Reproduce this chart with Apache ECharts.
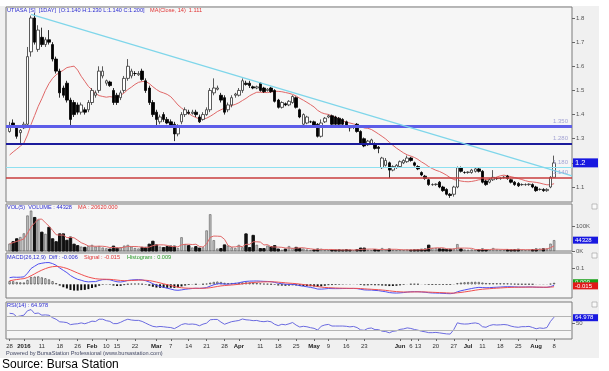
<!DOCTYPE html>
<html><head><meta charset="utf-8">
<script src="https://cdn.jsdelivr.net/npm/echarts@6/dist/echarts.min.js"></script>
<style>html,body{margin:0;padding:0;background:#fff}#c{width:609px;height:371px}</style>
</head><body><div id="c"></div>
<script>
// ---------- DATA ----------
const tradingDays = ('2015-12-28 2015-12-29 2015-12-30 2015-12-31 ' +
 '2016-01-04 2016-01-05 2016-01-06 2016-01-07 2016-01-08 2016-01-11 2016-01-12 2016-01-13 2016-01-14 2016-01-15 ' +
 '2016-01-18 2016-01-19 2016-01-20 2016-01-21 2016-01-22 2016-01-26 2016-01-27 2016-01-28 2016-01-29 ' +
 '2016-02-02 2016-02-03 2016-02-04 2016-02-05 2016-02-10 2016-02-11 2016-02-12 2016-02-15 2016-02-16 2016-02-17 2016-02-18 2016-02-19 ' +
 '2016-02-22 2016-02-23 2016-02-24 2016-02-25 2016-02-26 2016-02-29 ' +
 '2016-03-01 2016-03-02 2016-03-03 2016-03-04 2016-03-07 2016-03-08 2016-03-09 2016-03-10 2016-03-11 ' +
 '2016-03-14 2016-03-15 2016-03-16 2016-03-17 2016-03-18 2016-03-21 2016-03-22 2016-03-23 2016-03-24 2016-03-25 ' +
 '2016-03-28 2016-03-29 2016-03-30 2016-03-31 2016-04-01 ' +
 '2016-04-04 2016-04-05 2016-04-06 2016-04-07 2016-04-08 2016-04-11 2016-04-12 2016-04-13 2016-04-14 2016-04-15 ' +
 '2016-04-18 2016-04-19 2016-04-20 2016-04-21 2016-04-22 2016-04-25 2016-04-26 2016-04-27 2016-04-28 2016-04-29 ' +
 '2016-05-03 2016-05-04 2016-05-05 2016-05-06 2016-05-09 2016-05-10 2016-05-11 2016-05-12 2016-05-13 ' +
 '2016-05-16 2016-05-17 2016-05-18 2016-05-19 2016-05-20 2016-05-23 2016-05-24 2016-05-25 2016-05-26 2016-05-27 ' +
 '2016-05-30 2016-05-31 2016-06-01 2016-06-02 2016-06-03 ' +
 '2016-06-06 2016-06-07 2016-06-08 2016-06-09 2016-06-10 2016-06-13 2016-06-14 2016-06-15 2016-06-16 2016-06-17 ' +
 '2016-06-20 2016-06-21 2016-06-22 2016-06-23 2016-06-24 2016-06-27 2016-06-28 2016-06-29 2016-06-30 2016-07-01 ' +
 '2016-07-04 2016-07-05 2016-07-08 2016-07-11 2016-07-12 2016-07-13 2016-07-14 2016-07-15 ' +
 '2016-07-18 2016-07-19 2016-07-20 2016-07-21 2016-07-22 2016-07-25 2016-07-26 2016-07-27 2016-07-28 2016-07-29 ' +
 '2016-08-01 2016-08-02 2016-08-03 2016-08-04 2016-08-05 2016-08-08').split(' ');
const leadDays = ['2015-12-24'];
const trailDays = ['2016-08-09','2016-08-10','2016-08-11','2016-08-12','2016-08-15'];

const opens = [1.33,1.365,1.35,1.325,1.345,1.36,1.66,1.80,1.67,1.72,
1.69,1.71,1.69,1.63,1.58,1.51,1.53,1.46,1.45,1.44,
1.41,1.42,1.42,1.45,1.48,1.50,1.56,1.53,1.535,1.50,
1.48,1.47,1.50,1.55,1.56,1.57,1.565,1.58,1.54,1.51,
1.45,1.41,1.37,1.40,1.38,1.37,1.36,1.32,1.37,1.40,
1.41,1.405,1.41,1.39,1.38,1.40,1.42,1.49,1.505,1.48,
1.47,1.42,1.44,1.48,1.48,1.50,1.53,1.53,1.515,1.51,
1.53,1.51,1.50,1.51,1.50,1.46,1.43,1.445,1.44,1.45,
1.47,1.42,1.36,1.365,1.37,1.37,1.36,1.31,1.37,1.39,
1.395,1.39,1.385,1.38,1.37,1.35,1.35,1.36,1.33,1.30,
1.275,1.28,1.28,1.265,1.18,1.19,1.20,1.17,1.18,1.185,
1.20,1.205,1.22,1.20,1.185,1.16,1.145,1.13,1.11,1.11,
1.12,1.10,1.09,1.07,1.07,1.10,1.18,1.16,1.16,1.16,
1.165,1.175,1.165,1.125,1.12,1.13,1.135,1.135,1.14,1.145,
1.13,1.12,1.115,1.11,1.11,1.11,1.11,1.10,1.09,1.09,
1.085,1.10,1.14];
const closes = [1.355,1.35,1.31,1.335,1.36,1.64,1.80,1.70,1.75,1.69,
1.71,1.70,1.63,1.58,1.49,1.48,1.46,1.38,1.40,1.41,
1.44,1.41,1.45,1.50,1.49,1.58,1.58,1.54,1.52,1.45,
1.45,1.49,1.55,1.60,1.58,1.57,1.57,1.545,1.50,1.45,
1.40,1.38,1.39,1.38,1.365,1.355,1.32,1.355,1.40,1.42,
1.405,1.41,1.40,1.37,1.40,1.42,1.50,1.51,1.51,1.46,
1.41,1.44,1.47,1.485,1.50,1.54,1.525,1.52,1.51,1.515,
1.50,1.495,1.505,1.495,1.455,1.43,1.45,1.44,1.455,1.475,
1.43,1.39,1.40,1.39,1.37,1.355,1.31,1.365,1.385,1.395,
1.36,1.36,1.36,1.36,1.355,1.345,1.35,1.33,1.28,1.27,
1.29,1.295,1.26,1.26,1.22,1.21,1.17,1.185,1.19,1.205,
1.21,1.22,1.21,1.19,1.175,1.15,1.135,1.11,1.11,1.112,
1.10,1.085,1.07,1.065,1.10,1.18,1.165,1.16,1.162,1.17,
1.175,1.165,1.12,1.11,1.13,1.14,1.135,1.137,1.14,1.135,
1.12,1.11,1.105,1.11,1.11,1.112,1.10,1.085,1.09,1.085,
1.09,1.14,1.20];
const lows = [1.325,1.345,1.30,1.28,1.34,1.35,1.64,1.69,1.66,1.68,
1.68,1.69,1.62,1.57,1.47,1.47,1.45,1.355,1.39,1.40,
1.40,1.40,1.41,1.44,1.47,1.49,1.55,1.52,1.515,1.44,
1.44,1.46,1.49,1.54,1.55,1.56,1.56,1.54,1.49,1.44,
1.39,1.35,1.36,1.37,1.36,1.35,1.29,1.31,1.36,1.39,
1.40,1.40,1.39,1.365,1.375,1.395,1.41,1.48,1.50,1.45,
1.40,1.41,1.43,1.47,1.475,1.49,1.52,1.51,1.505,1.505,
1.495,1.49,1.495,1.49,1.45,1.425,1.425,1.435,1.435,1.445,
1.425,1.385,1.355,1.36,1.365,1.35,1.305,1.305,1.365,1.385,
1.355,1.355,1.355,1.355,1.35,1.33,1.34,1.325,1.275,1.265,
1.27,1.275,1.255,1.24,1.175,1.185,1.137,1.165,1.175,1.18,
1.195,1.20,1.205,1.185,1.17,1.145,1.13,1.105,1.105,1.105,
1.095,1.08,1.065,1.055,1.06,1.095,1.16,1.155,1.155,1.155,
1.16,1.16,1.115,1.105,1.115,1.125,1.13,1.13,1.135,1.13,
1.115,1.105,1.10,1.105,1.105,1.105,1.095,1.08,1.085,1.08,
1.08,1.095,1.14];
const highs = [1.37,1.38,1.355,1.34,1.37,1.68,1.81,1.82,1.77,1.76,
1.72,1.75,1.70,1.64,1.59,1.52,1.54,1.47,1.46,1.45,
1.45,1.43,1.46,1.51,1.50,1.60,1.60,1.545,1.54,1.51,
1.49,1.50,1.56,1.63,1.59,1.58,1.58,1.59,1.55,1.52,
1.46,1.42,1.40,1.41,1.39,1.38,1.37,1.36,1.41,1.43,
1.42,1.42,1.42,1.40,1.41,1.43,1.51,1.55,1.52,1.49,
1.48,1.45,1.48,1.49,1.51,1.55,1.54,1.54,1.52,1.52,
1.535,1.515,1.51,1.515,1.505,1.465,1.455,1.45,1.46,1.48,
1.475,1.425,1.405,1.395,1.375,1.375,1.365,1.38,1.39,1.40,
1.40,1.395,1.39,1.385,1.375,1.355,1.355,1.365,1.335,1.305,
1.295,1.30,1.285,1.27,1.225,1.22,1.205,1.19,1.195,1.21,
1.215,1.23,1.225,1.205,1.19,1.165,1.15,1.135,1.115,1.115,
1.125,1.105,1.095,1.075,1.105,1.185,1.185,1.165,1.165,1.175,
1.18,1.18,1.17,1.13,1.135,1.17,1.14,1.14,1.145,1.15,
1.135,1.125,1.12,1.115,1.115,1.115,1.115,1.105,1.095,1.095,
1.095,1.145,1.23];
const volumes = [30000,38000,50000,57000,72000,145000,165000,137000,128000,77000,
70000,97000,50000,38000,70000,70000,44000,57000,28000,22000,
18000,15000,20000,25000,18000,20000,14000,11000,8000,20000,
12000,15000,22000,25000,18000,12000,10000,15000,15000,28000,
40000,25000,18000,14000,18000,20000,20000,12000,56000,28000,
22000,14000,18000,12000,15000,84000,150000,44000,10000,10000,
25000,22000,15000,12000,25000,15000,70000,14000,64000,25000,
10000,10000,22000,18000,22000,8000,5000,8000,20000,12000,
15000,10000,10000,6000,4000,5000,8000,9000,5000,4000,
5000,4000,5000,4000,6000,4000,3000,6000,12000,12000,
5000,4000,6000,4000,12000,6000,8000,5000,4000,5000,
4000,6000,4000,5000,6000,7000,8000,24000,12000,12000,
9000,8000,6000,7000,10000,28000,9000,6000,5000,6000,
5000,6000,8000,6000,5000,12000,6000,5000,4000,6000,
5000,6000,7000,5000,4000,5000,6000,8000,9772,9000,
10000,30000,44328];
// closes before the first visible bar, estimated from where MA/MACD/RSI start in the picture
const priorCloses = [1.17,1.15,1.16,1.18,1.17,1.19,1.18,1.22,1.25,1.23,1.30,1.33,1.37];

const levelValues = [1.35, 1.28, 1.18, 1.14];
const levelLabels = ['1.350', '1.280', '1.180', '1.140'];
const trendLine = [['2016-01-06', 1.815], ['2016-08-15', 1.146]];
const priceTicks = [1.1, 1.2, 1.3, 1.4, 1.5, 1.6, 1.7, 1.8];
const volTicks = [0, 100000];
const macdTicks = [0.1];
const rsiTicks = [50];
const rsiLevels = [70, 30];
const tickDates = ['2015-12-28','2016-01-04','2016-01-11','2016-01-18','2016-01-26','2016-02-02','2016-02-10','2016-02-15','2016-02-22',
 '2016-03-01','2016-03-07','2016-03-14','2016-03-21','2016-03-28','2016-04-01','2016-04-11','2016-04-18','2016-04-25',
 '2016-05-03','2016-05-09','2016-05-16','2016-05-23','2016-06-06','2016-06-09','2016-06-13','2016-06-20','2016-06-27',
 '2016-07-01','2016-07-11','2016-07-18','2016-07-25','2016-08-01','2016-08-08'];
const tickTexts = ['28','2016','11','18','26','Feb','10','15','22','Mar','7','14','21','28','Apr','11','18','25',
 'May','9','16','23','Jun','6','13','20','27','Jul','11','18','25','Aug','8'];
const boldTicks = ['2016','Feb','Mar','Apr','May','Jun','Jul','Aug'];
// values shown in the panel headers and boxes
const lastClose = 1.2, lastCloseText = '1.2';
const lastVolume = 44328, volMA = '20620.000';
const maLast = '1.111';
const macdDiff = -0.006, macdSignal = -0.015, macdHist = 0.009;
const rsiLast = 64.978;

// ---------- BUILD ----------
const categories = leadDays.concat(tradingDays, trailDays);
const L = leadDays.length, T = trailDays.length;
const pad = arr => Array(L).fill('-').concat(arr, Array(T).fill('-'));

function ema(arr, n) { const k = 2 / (n + 1); let e; return arr.map((v, i) => (e = i === 0 ? v : v * k + e * (1 - k))); }
const all = priorCloses.concat(closes), P = priorCloses.length;
const ma14 = closes.map((c, i) => { const s = all.slice(Math.max(0, i + P - 13), i + P + 1); return +(s.reduce((a, b) => a + b, 0) / s.length).toFixed(4); });
const e12 = ema(all, 12), e26 = ema(all, 26);
const diffAll = all.map((v, i) => e12[i] - e26[i]);
const sigAll = ema(diffAll, 9);
const diff = diffAll.slice(P), sig = sigAll.slice(P), hist = diff.map((d, i) => d - sig[i]);
const rsiAll = [null]; let ag = 0, al = 0;
for (let i = 1; i < all.length; i++) {
  const ch = all[i] - all[i - 1], g = Math.max(ch, 0), l = Math.max(-ch, 0);
  if (i <= 14) { ag += g / 14; al += l / 14; } else { ag = (ag * 13 + g) / 14; al = (al * 13 + l) / 14; }
  rsiAll.push(al === 0 ? 100 : 100 - 100 / (1 + ag / al));
}
const rsi = rsiAll.slice(P);
const volMa5 = volumes.map((v, i) => { const s = volumes.slice(Math.max(0, i - 4), i + 1); return s.reduce((a, b) => a + b, 0) / s.length; });

const candleData = pad(opens.map((o, i) => [o, closes[i], lows[i], highs[i]]));
const volData = pad(volumes.map((v, i) => ({ value: v, itemStyle: closes[i] >= opens[i] ? { color: '#c4c4c4', borderColor: '#555', borderWidth: 0.6 } : { color: '#111', borderColor: '#111' } })));
const histData = pad(hist.map(h => ({ value: +h.toFixed(4), itemStyle: h >= 0 ? { color: '#fff', borderColor: '#222', borderWidth: 0.6 } : { color: '#111' } })));

const tickMap = new Map(tickDates.map((d, i) => [d, tickTexts[i]]));
const F = '"Liberation Sans", Arial, sans-serif';
const GL = 6, GR = 37;
const grids = [
  { top: 7, height: 195 }, { top: 204, height: 47 }, { top: 253, height: 45 }, { top: 302, height: 37 }
].map(g => Object.assign({ left: GL, right: GR, show: true, backgroundColor: '#f6f6f6', borderColor: '#7a7a7a', borderWidth: 1 }, g));

const xAxes = grids.map((g, i) => ({
  type: 'category', gridIndex: i, data: categories, boundaryGap: false,
  axisLine: { show: false }, splitLine: { show: false },
  axisTick: i === 3 ? { show: true, length: 2, interval: (idx, v) => tickMap.has(v), lineStyle: { color: '#666' } } : { show: false },
  axisLabel: i === 3 ? {
    show: true, interval: (idx, v) => tickMap.has(v), margin: 4, fontSize: 6, color: '#333', fontFamily: F,
    formatter: v => { const t = tickMap.get(v) || ''; return boldTicks.includes(t) ? '{b|' + t + '}' : t; },
    rich: { b: { fontWeight: 'bold', fontSize: 6, color: '#222', fontFamily: F } }
  } : { show: false }
}));

const yBase = (i, min, max, ticks, fmt) => ({
  type: 'value', gridIndex: i, min, max, position: 'right', scale: true,
  axisLine: { show: false }, splitLine: { show: false },
  axisTick: { show: true, length: 3, customValues: ticks, lineStyle: { color: '#666' } },
  axisLabel: { show: true, customValues: ticks, fontSize: 6, color: '#555', margin: 4, fontFamily: F, formatter: fmt }
});
const yAxes = [
  yBase(0, 1.0379, 1.8456, priceTicks, v => v.toFixed(1)),
  yBase(1, 0, 192000, volTicks, v => Math.round(v / 1000) + 'K'),
  yBase(2, -0.0875, 0.2, macdTicks, v => String(v)),
  yBase(3, 4, 110, rsiTicks, v => String(v))
];

const HIDDEN = { color: 'rgba(0,0,0,0)', width: 0 };
const boxLabel = (text, bg, size) => ({ show: true, position: 'end', distance: 1, formatter: text, backgroundColor: bg, color: '#fff',
  fontSize: size || 6, fontFamily: F, padding: [1, 2, 0, 2], width: 21, align: 'left', opacity: 1 });
const levelStyles = [
  { color: '#5d5de8', width: 3 }, { color: '#1c1c9c', width: 2 }, { color: '#8ee0f0', width: 1.2 }, { color: '#c83c3c', width: 1.6 }
];

const series = [
  { type: 'candlestick', xAxisIndex: 0, yAxisIndex: 0, data: candleData, barWidth: 3,
    itemStyle: { color: '#ffffff', color0: '#000000', borderColor: '#333', borderColor0: '#000', borderWidth: 0.8 },
    markLine: { symbol: ['none', 'none'], silent: true, animation: false,
      data: levelValues.map((v, i) => ({ yAxis: v, lineStyle: Object.assign({ type: 'solid' }, levelStyles[i]),
        label: { show: true, position: 'insideEndTop', distance: [4, 2], formatter: levelLabels[i], color: '#a4a4d4', fontSize: 6, fontFamily: F } }))
      .concat([
        [{ coord: trendLine[0], lineStyle: { color: '#7fd6ea', width: 1.2, type: 'solid' }, label: { show: false } }, { coord: trendLine[1] }],
        { yAxis: lastClose, lineStyle: HIDDEN, label: boxLabel(lastCloseText, '#1818e0', 7.5) }
      ]) } },
  { type: 'line', xAxisIndex: 0, yAxisIndex: 0, data: pad(ma14), symbol: 'none', lineStyle: { color: '#e06868', width: 1 }, z: 1 },
  { type: 'bar', xAxisIndex: 1, yAxisIndex: 1, data: volData, barWidth: 2.4,
    markLine: { symbol: ['none', 'none'], silent: true, data: [{ yAxis: lastVolume, lineStyle: HIDDEN, label: boxLabel(String(lastVolume), '#1818e0') }] } },
  { type: 'line', xAxisIndex: 1, yAxisIndex: 1, data: pad(volMa5), symbol: 'none', lineStyle: { color: '#e06868', width: 1 } },
  { type: 'bar', xAxisIndex: 2, yAxisIndex: 2, data: histData, barWidth: 2,
    markLine: { symbol: ['none', 'none'], silent: true, data: [
      { yAxis: macdHist, lineStyle: HIDDEN, label: boxLabel(macdHist.toFixed(3), '#18a018') },
      { yAxis: macdSignal, lineStyle: HIDDEN, label: boxLabel(macdSignal.toFixed(3), '#e01818') }] } },
  { type: 'line', xAxisIndex: 2, yAxisIndex: 2, data: pad(diff), symbol: 'none', lineStyle: { color: '#5050f0', width: 1 } },
  { type: 'line', xAxisIndex: 2, yAxisIndex: 2, data: pad(sig), symbol: 'none', lineStyle: { color: '#f05050', width: 1 } },
  { type: 'line', xAxisIndex: 3, yAxisIndex: 3, data: pad(rsi), symbol: 'none', lineStyle: { color: '#6a6ae0', width: 1 },
    markLine: { symbol: ['none', 'none'], silent: true, data: rsiLevels.map(v => ({ yAxis: v, lineStyle: { color: '#b4b4b4', width: 1, type: 'solid' }, label: { show: false } }))
      .concat([{ yAxis: rsiLast, lineStyle: HIDDEN, label: boxLabel(rsiLast.toFixed(3), '#1818e0') }]) } }
];

const txt = (x, y, text, fill, size, extra) => ({ type: 'text', x, y, z: 100, silent: true,
  style: Object.assign({ text, fill, font: (size || 6) + 'px ' + F, verticalAlign: 'middle' }, extra || {}) });
const icon = y => ({ type: 'rect', z: 100, silent: true, shape: { x: 592, y, width: 5, height: 5 }, style: { fill: '#fafafa', stroke: '#9a9a9a', lineWidth: 0.6 } });
const graphic = [
  { type: 'rect', z: 90, silent: true, shape: { x: 0, y: 0, width: 609, height: 6 }, style: { fill: '#fff' } },
  { type: 'rect', z: 90, silent: true, shape: { x: 599, y: 0, width: 10, height: 371 }, style: { fill: '#fff' } },
  { type: 'rect', z: 90, silent: true, shape: { x: 0, y: 358, width: 609, height: 13 }, style: { fill: '#fff' } },
  txt(7, 10.5, 'UTIASA [S]  [1DAY]  [O:1.140 H:1.230 L:1.140 C:1.200]', '#2b2bd0', 5.6),
  txt(150, 10.5, 'MA(Close, 14)  ' + maLast, '#e03434', 5.6),
  txt(7, 207.5, 'VOL(5)  VOLUME : ' + lastVolume, '#2b2bd0', 5.6),
  txt(78, 207.5, 'MA : ' + volMA, '#e03434', 5.6),
  txt(7, 257, 'MACD(26,12,9)  Diff : ' + macdDiff.toFixed(3), '#2b2bd0', 5.6),
  txt(84, 257, 'Signal : ' + macdSignal.toFixed(3), '#e03434', 5.6),
  txt(127, 257, 'Histogram : ' + macdHist.toFixed(3), '#2a9a2a', 5.6),
  txt(7, 305.5, 'RSI(14) : ' + rsiLast.toFixed(3), '#2b2bd0', 5.6),
  txt(6, 353, 'Powered by BursaStation Professional (www.bursastation.com)', '#444a66', 5.6),
  txt(2, 365, 'Source: Bursa Station', '#000', 12),
  icon(204), icon(253), icon(302)
];

const chart = echarts.init(document.getElementById('c'), null, { renderer: 'canvas' });
chart.setOption({ animation: false, backgroundColor: '#f0f0f0', grid: grids, xAxis: xAxes, yAxis: yAxes, series, graphic });
</script></body></html>
